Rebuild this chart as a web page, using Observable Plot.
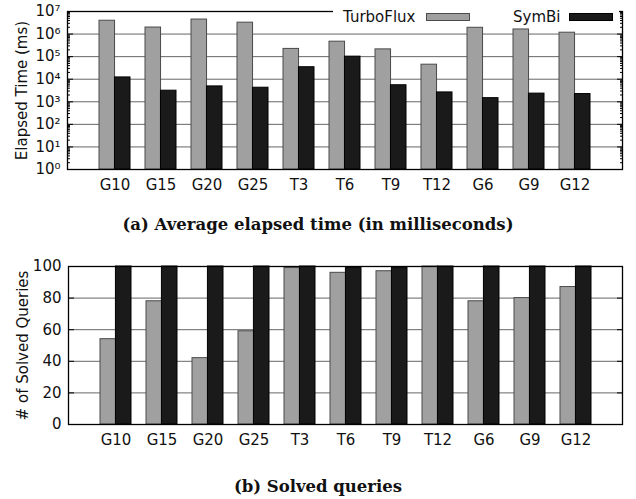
<!DOCTYPE html>
<html>
<head>
<meta charset="utf-8">
<script src="https://cdn.jsdelivr.net/npm/d3@7"></script>
<script src="https://cdn.jsdelivr.net/npm/@observablehq/plot@0.6"></script>
<style>
  html, body { margin: 0; padding: 0; background: #fff; }
  #wrap { position: relative; width: 636px; height: 499px; overflow: hidden; font-family: "DejaVu Sans", sans-serif; }
  .chart { position: absolute; left: 0; }
  .caption { position: absolute; left: 0; width: 636px; text-align: center; font-family: "DejaVu Serif", serif; font-weight: bold; font-size: 16.5px; color: #111; line-height: 20px; }
  #legend { position: absolute; left: 333px; top: 4px; width: 286px; height: 22px; background: #fff; font-size: 15px; color: #111; }
  #legend span { position: absolute; top: 4px; line-height: 18px; }
  #legend i { position: absolute; top: 9px; width: 44px; height: 8px; box-sizing: border-box; }
</style>
</head>
<body>
<div id="wrap">
  <div id="top" class="chart" style="top:0px"></div>
  <div id="legend">
    <span style="left:10px">TurboFlux</span>
    <i style="left:93px;background:#a0a0a0;border:1px solid #4a4a4a"></i>
    <span style="left:180px">SymBi</span>
    <i style="left:236px;background:#1a1a1a;border:1px solid #000"></i>
  </div>
  <div class="caption" style="top:215px">(a) Average elapsed time (in milliseconds)</div>
  <div id="bottom" class="chart" style="top:255px"></div>
  <div class="caption" style="top:477px">(b) Solved queries</div>
</div>
<script>
// ---- data ----
const categories = ["G10", "G15", "G20", "G25", "T3", "T6", "T9", "T12", "G6", "G9", "G12"];
const seriesNames = ["TurboFlux", "SymBi"];
const turboFluxTime = [3.9e6, 1.95e6, 4.4e6, 3.2e6, 2.2e5, 4.6e5, 2.1e5, 4.4e4, 1.9e6, 1.6e6, 1.15e6];
const symBiTime = [1.2e4, 3.1e3, 4.8e3, 4.2e3, 3.4e4, 1.0e5, 5.4e3, 2.6e3, 1.45e3, 2.3e3, 2.2e3];
const turboFluxSolved = [54, 78, 42, 59, 99, 96, 97, 100, 78, 80, 87];
const symBiSolved = [100, 100, 100, 100, 100, 99, 99, 100, 100, 100, 100];
const logMajorTicks = [1, 10, 100, 1e3, 1e4, 1e5, 1e6, 1e7];
const logTickLabels = ["10⁰", "10¹", "10²", "10³", "10⁴", "10⁵", "10⁶", "10⁷"];
const logGrid = [10, 100, 1e3, 1e4, 1e5, 1e6];
const logMinorTicks = [];
for (let e = 0; e < 7; e++) for (let m = 2; m <= 9; m++) logMinorTicks.push(m * Math.pow(10, e));
const linTicks = [0, 20, 40, 60, 80, 100];
const linGrid = [20, 40, 60, 80];

const timeRows = categories.map((c, i) => ({cat: c, tf: turboFluxTime[i], sb: symBiTime[i]}));
const solvedRows = categories.map((c, i) => ({cat: c, tf: turboFluxSolved[i], sb: symBiSolved[i]}));

const W = 636, H = 200;
const padInner = 0.33, padOuter = 0.68;
function halfBand(ml, mr) {
  const step = (W - ml - mr) / (categories.length - padInner + 2 * padOuter);
  return step * (1 - padInner) / 2;
}
const font = "DejaVu Sans";
const tfFill = "#a0a0a0", tfStroke = "#4a4a4a", sbFill = "#1a1a1a", sbStroke = "#000";

function makeChart({rows, yOpts, grid, majors, labels, minors, ylabel, ml, mr}) {
  const hb = halfBand(ml, mr);
  const marks = [
    Plot.ruleY(grid, {stroke: "#666", strokeWidth: 1}),
    Plot.barY(rows, {x: "cat", y1: yOpts.base, y2: "tf", fill: tfFill, stroke: tfStroke, strokeWidth: 1, insetRight: hb}),
    Plot.barY(rows, {x: "cat", y1: yOpts.base, y2: "sb", fill: sbFill, stroke: sbStroke, strokeWidth: 1, insetLeft: hb}),
    Plot.axisY({anchor: "left", ticks: majors, tickSize: 6, dx: 6, tickFormat: () => "", label: null, stroke: "#000"}),
    Plot.axisY({anchor: "right", ticks: majors, tickSize: 6, dx: -6, tickFormat: () => "", label: null, stroke: "#000"}),
    Plot.axisY({anchor: "left", ticks: majors, tickSize: 0, tickPadding: 7, tickFormat: (d) => labels[majors.indexOf(d)], label: null, fontSize: 15, fill: "#111"}),
    Plot.axisX({anchor: "bottom", tickSize: 0, tickPadding: 10, label: null, fontSize: 15, fill: "#111"}),
    Plot.text([ylabel], {frameAnchor: "left", text: (d) => d, rotate: -90, dx: -45, textAnchor: "middle", lineAnchor: "middle", fontSize: 15, fill: "#111"}),
    Plot.frame({stroke: "#000", strokeWidth: 1.3})
  ];
  if (minors) {
    marks.splice(5, 0,
      Plot.axisY({anchor: "left", ticks: minors, tickSize: 3, dx: 3, tickFormat: () => "", label: null, stroke: "#000"}),
      Plot.axisY({anchor: "right", ticks: minors, tickSize: 3, dx: -3, tickFormat: () => "", label: null, stroke: "#000"})
    );
  }
  return Plot.plot({
    width: W, height: H,
    marginLeft: ml, marginRight: mr, marginTop: 11, marginBottom: 31,
    style: {fontFamily: font, fontSize: "15px", background: "transparent", overflow: "visible"},
    x: {type: "band", domain: categories, paddingInner: padInner, paddingOuter: padOuter, axis: null},
    y: {...yOpts.scale, axis: null},
    marks
  });
}

document.getElementById("top").append(makeChart({
  rows: timeRows,
  yOpts: {base: 1, scale: {type: "log", domain: [1, 1e7]}},
  grid: logGrid, majors: logMajorTicks, labels: logTickLabels, minors: logMinorTicks,
  ylabel: "Elapsed Time (ms)", ml: 67, mr: 14
}));

document.getElementById("bottom").append(makeChart({
  rows: solvedRows,
  yOpts: {base: 0, scale: {type: "linear", domain: [0, 100]}},
  grid: linGrid, majors: linTicks, labels: linTicks.map(String), minors: null,
  ylabel: "# of Solved Queries", ml: 68, mr: 14
}));
</script>
</body>
</html>
